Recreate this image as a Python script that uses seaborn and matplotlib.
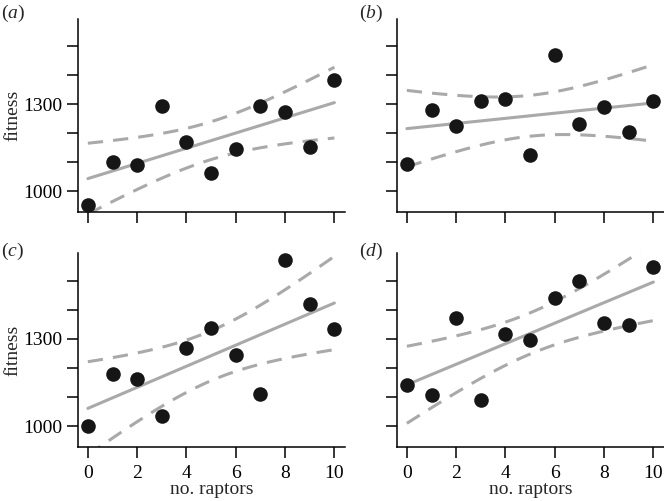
import numpy as np
import pandas as pd
import seaborn as sns
import matplotlib
matplotlib.use("Agg")
import matplotlib.pyplot as plt

# number of raptors (same for every panel)
raptors = [0, 1, 2, 3, 4, 5, 6, 7, 8, 9, 10]

# fitness values
fit_a = [952, 1100, 1090, 1296, 1171, 1062, 1147, 1296, 1272, 1153, 1383]
fit_b = [1093, 1280, 1226, 1313, 1318, 1126, 1471, 1232, 1290, 1206, 1311]
fit_c = [1000, 1179, 1162, 1035, 1268, 1337, 1246, 1110, 1571, 1418, 1335]
fit_d = [1140, 1107, 1370, 1088, 1316, 1297, 1440, 1499, 1353, 1346, 1547]

panel_names = ["a", "b", "c", "d"]
y_ticks = [1000, 1100, 1200, 1300, 1400, 1500]
y_ticklabels = ["1000", "", "", "1300", "", ""]
x_ticks = [0, 2, 4, 6, 8, 10]

sns.set_style("ticks")
plt.rcParams["font.family"] = ["Liberation Serif", "DejaVu Serif"]
plt.rcParams["mathtext.fontset"] = "custom"
plt.rcParams["mathtext.rm"] = "Liberation Serif"
plt.rcParams["mathtext.it"] = "Liberation Serif:italic"

GREY = "#a9a9a9"
T95 = 2.262  # t quantile, 9 df


def conf_band(x, y):
    # ordinary least squares fit and 95% CI of the mean response
    x = np.asarray(x, float)
    y = np.asarray(y, float)
    n = len(x)
    b1, b0 = np.polyfit(x, y, 1)
    resid = y - (b0 + b1 * x)
    s = np.sqrt(np.sum(resid ** 2) / (n - 2))
    sxx = np.sum((x - x.mean()) ** 2)
    xs = np.linspace(x.min(), x.max(), 100)
    fit = b0 + b1 * xs
    half = T95 * s * np.sqrt(1.0 / n + (xs - x.mean()) ** 2 / sxx)
    return xs, fit - half, fit + half


fig = plt.figure(figsize=(6.64, 5.01), dpi=100)
W, H = 664.0, 501.0
# axes boxes in pixels: left, top, right, bottom
boxes = [(78, 19, 345, 212), (397, 19, 664, 212),
         (78, 253, 345, 447), (397, 253, 664, 447)]
data = [fit_a, fit_b, fit_c, fit_d]

for i, (name, vals, box) in enumerate(zip(panel_names, data, boxes)):
    l, t, r, b = box
    ax = fig.add_axes([l / W, 1 - b / H, (r - l) / W, (b - t) / H])
    df = pd.DataFrame({"raptors": raptors, "fitness": vals})

    sns.regplot(data=df, x="raptors", y="fitness", ax=ax, ci=None,
                scatter_kws=dict(s=110, color="#161616", alpha=1,
                                 linewidths=0, zorder=3),
                line_kws=dict(color=GREY, lw=2.2, zorder=2))
    xs, lo, hi = conf_band(raptors, vals)
    for band in (lo, hi):
        ax.plot(xs, band, color=GREY, lw=2.2, dashes=(5, 3.3), zorder=2)

    ax.set_xlim(-0.4, 10.43)
    ax.set_ylim(928, 1595)
    ax.set_yticks(y_ticks)
    ax.set_xticks(x_ticks)
    sns.despine(ax=ax)
    for sp in ax.spines.values():
        sp.set_linewidth(1.1)
        sp.set_color("black")
    ax.tick_params(axis="both", direction="out", length=8, width=1.1,
                   color="black", labelsize=14, labelcolor="black")
    ax.tick_params(axis="y", pad=3.5)
    ax.tick_params(axis="x", pad=5)

    if i % 2 == 0:
        ax.set_yticklabels(y_ticklabels)
        ax.set_ylabel("fitness", fontsize=14, labelpad=1)
    else:
        ax.set_yticklabels([])
        ax.set_ylabel("")
    if i >= 2:
        ax.set_xticklabels([str(v) for v in x_ticks])
        ax.set_xlabel("no. raptors", fontsize=14, labelpad=-1)
    else:
        ax.set_xticklabels([])
        ax.set_xlabel("")

# panel letters
letter_pos = {"a": (1, 13), "b": (359, 13), "c": (1, 251), "d": (359, 251)}
for name in panel_names:
    px, py = letter_pos[name]
    fig.text(px / W, 1 - py / H, r"($\mathit{" + name + "}$)",
             fontsize=14, va="center", ha="left")

fig.savefig("out.png", dpi=100)
